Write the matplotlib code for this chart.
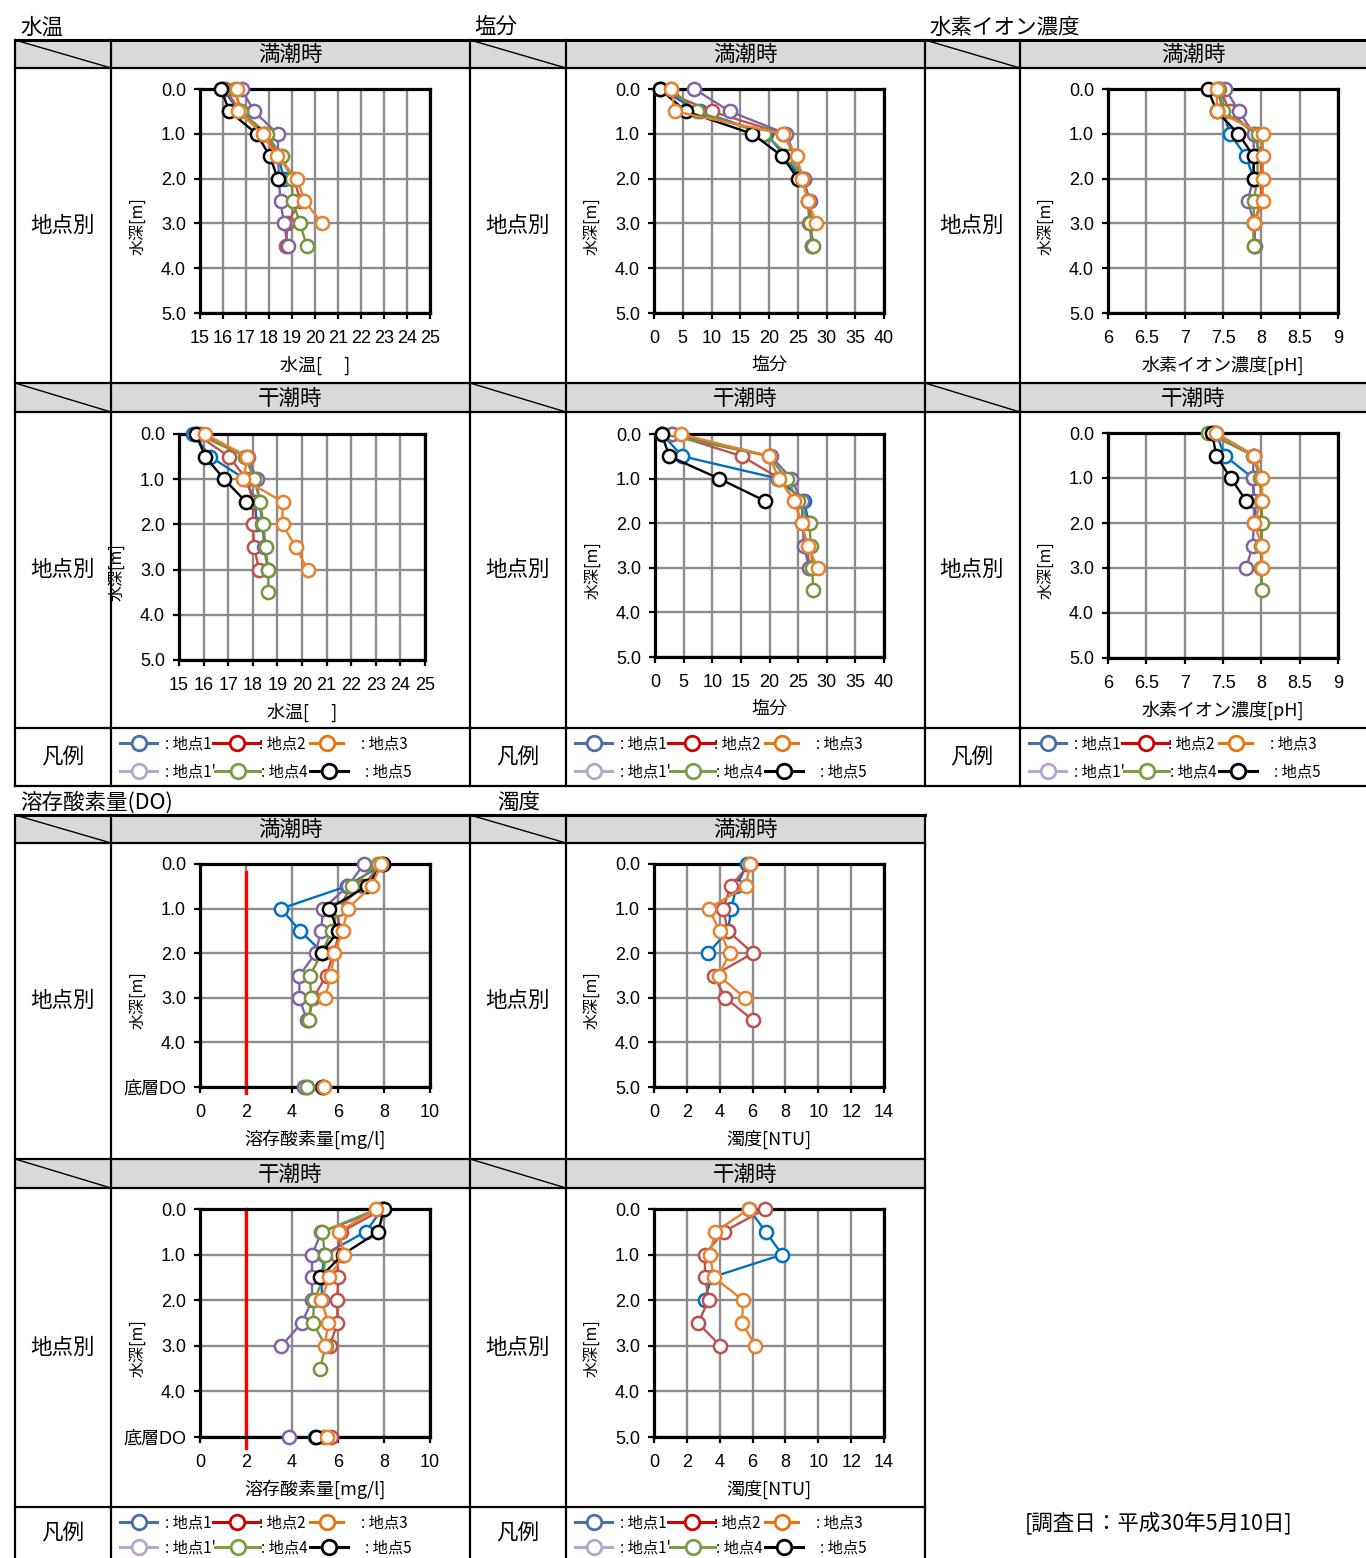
import matplotlib
matplotlib.use("Agg")
import matplotlib.pyplot as plt
from matplotlib.patches import Rectangle

plt.rcParams['font.family'] = ['Noto Sans CJK JP', 'DejaVu Sans']

W, H = 1366, 1558
fig = plt.figure(figsize=(W / 100, H / 100), dpi=100)

# ---------------------------------------------------------------- data
DEPTHS = [0.0, 0.5, 1.0, 1.5, 2.0, 2.5, 3.0, 3.5]
STATIONS = ["地点1", "地点2", "地点3", "地点1'", "地点4", "地点5"]
DRAW_ORDER = ["地点1", "地点2", "地点1'", "地点4", "地点5", "地点3"]

temp_high = {
    "地点1": [16.0, 16.7, 17.8, 18.4, 18.65],
    "地点2": [16.1, 16.75, 17.8, 18.4, 19.1, 19.35, 18.8, 18.75],
    "地点3": [16.6, 16.67, 17.72, 18.33, 19.23, 19.54, 20.32],
    "地点1'": [16.81, 17.35, 18.38, 18.4, 18.43, 18.5, 18.65, 18.81],
    "地点4": [16.5, 16.8, 17.9, 18.55, 18.99, 19.03, 19.35, 19.64],
    "地点5": [15.91, 16.28, 17.46, 18.04, 18.38],
}
temp_low = {
    "地点1": [15.58, 16.26, 17.7, 18.1, 18.15],
    "地点2": [15.7, 17.03, 17.75, 18.02, 18.0, 18.06, 18.25],
    "地点3": [16.06, 17.78, 17.62, 19.21, 19.21, 19.74, 20.23],
    "地点1'": [15.9, 17.79, 18.16, 18.27, 18.39, 18.46, 18.6],
    "地点4": [15.75, 17.7, 18.05, 18.3, 18.43, 18.52, 18.63, 18.63],
    "地点5": [15.69, 16.06, 16.84, 17.72],
}
salinity_high = {
    "地点1": [1.0, 8.0, 19.5, 22.8, 25.5],
    "地点2": [1.0, 10.0, 22.5, 24.5, 26.0, 26.8, 27.0, 27.5],
    "地点3": [3.0, 3.6, 22.4, 24.9, 25.7, 26.8, 28.2],
    "地点1'": [7.0, 13.2, 23.0, 24.5, 26.0, 27.1, 27.3, 27.5],
    "地点4": [3.0, 7.4, 19.2, 23.5, 25.8, 26.8, 27.2, 27.7],
    "地点5": [1.0, 5.6, 17.1, 22.3, 25.0],
}
salinity_low = {
    "地点1": [1.2, 4.8, 21.5, 26.0, 26.9],
    "地点2": [2.9, 15.2, 21.8, 24.4, 25.6, 26.5, 27.0],
    "地点3": [4.5, 19.9, 21.7, 24.3, 25.6, 26.7, 28.4],
    "地点1'": [2.9, 20.3, 23.8, 25.6, 25.8, 26.0, 26.9],
    "地点4": [1.3, 19.9, 23.0, 25.0, 27.0, 27.2, 27.5, 27.6],
    "地点5": [1.16, 2.5, 11.2, 19.2],
}
ph_high = {
    "地点1": [7.43, 7.5, 7.59, 7.8, 7.9],
    "地点2": [7.46, 7.59, 7.9, 8.0, 8.0, 8.0, 7.9, 7.9],
    "地点3": [7.42, 7.42, 8.02, 8.02, 8.02, 8.02, 7.91],
    "地点1'": [7.53, 7.71, 7.9, 7.9, 7.9, 7.82, 7.91, 7.92],
    "地点4": [7.45, 7.5, 7.95, 7.95, 7.95, 7.9, 7.9, 7.9],
    "地点5": [7.3, 7.42, 7.7, 7.9, 7.9],
}
ph_low = {
    "地点1": [7.41, 7.52, 7.89, 7.9, 7.95],
    "地点2": [7.4, 7.9, 8.0, 8.0, 8.0, 8.0, 8.0],
    "地点3": [7.41, 7.9, 8.01, 8.01, 7.9, 8.01, 8.01],
    "地点1'": [7.4, 7.9, 7.89, 7.91, 7.9, 7.89, 7.8],
    "地点4": [7.3, 7.89, 7.98, 8.0, 8.01, 8.0, 8.0, 8.01],
    "地点5": [7.36, 7.41, 7.6, 7.8],
}
do_high = {
    "地点1": [7.97, 6.38, 3.52, 4.35, 5.36],
    "地点2": [7.83, 7.1, 5.94, 6.09, 5.8, 5.5, 4.93, 4.71],
    "地点3": [7.87, 7.46, 6.42, 6.2, 5.83, 5.7, 5.43],
    "地点1'": [7.13, 6.42, 5.36, 5.26, 5.03, 4.32, 4.32, 4.64],
    "地点4": [7.75, 6.59, 6.01, 5.72, 5.29, 4.78, 4.83, 4.75],
    "地点5": [7.94, 7.25, 5.61, 6.01, 5.29],
}
do_high_bottom = {"地点1": 5.3, "地点2": 4.64, "地点3": 5.4,
                  "地点1'": 4.52, "地点4": 4.64, "地点5": 5.33}
do_low = {
    "地点1": [7.93, 7.2, 5.4, 5.3, 5.29],
    "地点2": [7.97, 6.15, 5.95, 6.01, 5.97, 5.97, 5.65],
    "地点3": [7.67, 6.04, 6.26, 5.61, 5.28, 5.57, 5.43],
    "地点1'": [7.93, 5.28, 4.88, 4.86, 4.88, 4.42, 3.54],
    "地点4": [7.7, 5.32, 5.43, 5.39, 4.96, 4.91, 5.46, 5.22],
    "地点5": [8.0, 7.75, 6.2, 5.22],
}
do_low_bottom = {"地点1": 5.0, "地点2": 5.68, "地点3": 5.51,
                 "地点1'": 3.87, "地点4": 5.39, "地点5": 5.03}
turbidity_high = {
    "地点1": [5.68, 5.01, 4.71, 4.5, 3.29],
    "地点2": [5.82, 4.67, 4.2, 4.5, 6.02, 3.63, 4.34, 6.02],
    "地点3": [5.86, 5.58, 3.33, 4.0, 4.6, 3.94, 5.52],
}
turbidity_low = {
    "地点1": [5.78, 6.8, 7.81, 3.5, 3.08],
    "地点2": [6.77, 4.24, 3.08, 3.12, 3.33, 2.68, 4.04],
    "地点3": [5.78, 3.73, 3.39, 3.65, 5.42, 5.36, 6.17],
}
DO_LIMIT = 2.0

temp_ticks = list(range(15, 26))
salinity_ticks = list(range(0, 41, 5))
ph_ticks = [6, 6.5, 7, 7.5, 8, 8.5, 9]
ph_ticklabels = ["6", "6.5", "7", "7.5", "8", "8.5", "9"]
do_ticks = list(range(0, 11, 2))
turbidity_ticks = list(range(0, 15, 2))
depth_ticklabels = ["0.0", "1.0", "2.0", "3.0", "4.0", "5.0"]
do_depth_ticklabels = ["0.0", "1.0", "2.0", "3.0", "4.0", "底層DO"]

# ---------------------------------------------------------------- styles
LINE_COLORS = {"地点1": "#0070C0", "地点2": "#C0504D", "地点3": "#E9812E",
               "地点1'": "#8064A2", "地点4": "#77933C", "地点5": "#000000"}
LEGEND_COLORS = {"地点1": "#4A6FA8", "地点2": "#D00000", "地点3": "#E8740C",
                 "地点1'": "#B4A5D2", "地点4": "#7BA044", "地点5": "#000000"}
TICK_FONT = ['Liberation Sans', 'Noto Sans CJK JP']
CJK = ['Noto Sans CJK JP', 'DejaVu Sans']

# ---------------------------------------------------------------- table frame
frame = fig.add_axes([0, 0, 1, 1])
frame.set_xlim(0, W)
frame.set_ylim(H, 0)
frame.axis("off")


def hline(y, x0, x1, lw=1.6):
    frame.plot([x0, x1], [y, y], color="black", lw=lw, solid_capstyle="projecting")


def vline(x, y0, y1, lw=1.6):
    frame.plot([x, x], [y0, y1], color="black", lw=lw, solid_capstyle="projecting")


def header_row(y0, y1, cols, right, label):
    frame.add_patch(Rectangle((cols[0], y0), right - cols[0], y1 - y0,
                              facecolor="#D9D9D9", edgecolor="none"))
    for i in range(0, len(cols), 2):
        a = cols[i]
        b = cols[i + 1]
        frame.plot([a, b], [y0, y1], color="black", lw=1.0)
        end = cols[i + 2] if i + 2 < len(cols) else right
        frame.text((b + end) / 2, (y0 + y1) / 2 + 1, label, ha="center", va="center",
                   fontsize=15.5, family=CJK)


# top section
cols_top = [15, 111, 470, 566, 925, 1020]
header_row(40, 68, cols_top, W, "満潮時")
header_row(383, 412, cols_top, W, "干潮時")
hline(40, 15, W, lw=2.2)
for y in (68, 383, 412, 728, 786):
    hline(y, 15, W)
for x in cols_top:
    vline(x, 40, 786)

# bottom section
cols_bot = [15, 111, 470, 566]
header_row(815, 843, cols_bot, 925, "満潮時")
header_row(1159, 1188, cols_bot, 925, "干潮時")
hline(815, 15, 925, lw=2.2)
for y in (843, 1159, 1188, 1507):
    hline(y, 15, 925)
for x in cols_bot + [925]:
    vline(x, 815, H)

# section titles
for txt, x, y in [("水温", 20, 27), ("塩分", 474, 27), ("水素イオン濃度", 929, 27),
                  ("溶存酸素量(DO)", 20, 802), ("濁度", 497, 802)]:
    frame.text(x, y + 1, txt, ha="left", va="center", fontsize=15.5, family=CJK)

# row labels
for cx in (63, 518, 972):
    for cy in (226, 570):
        frame.text(cx, cy, "地点別", ha="center", va="center", fontsize=15.5, family=CJK)
    frame.text(cx, 757, "凡例", ha="center", va="center", fontsize=15.5, family=CJK)
for cx in (63, 518):
    for cy in (1001, 1348):
        frame.text(cx, cy, "地点別", ha="center", va="center", fontsize=15.5, family=CJK)
    frame.text(cx, 1533, "凡例", ha="center", va="center", fontsize=15.5, family=CJK)

frame.text(1025, 1523, "[調査日：平成30年5月10日]", ha="left", va="center",
           fontsize=15.5, family=CJK)

# legend cells: (station, line start, line end, text start) relative to cell left
LEGEND_SLOTS = [
    [("地点1", 9, 46, 54), ("地点2", 102, 149, 148), ("地点3", 199, 232, 250)],
    [("地点1'", 9, 46, 54), ("地点4", 104, 149, 150), ("地点5", 199, 237, 254)],
]


def legend_cell(x0, rows_y):
    for slots, y in zip(LEGEND_SLOTS, rows_y):
        for st, a, b, t in slots:
            c = LEGEND_COLORS[st]
            frame.plot([x0 + a, x0 + b], [y, y], color=c, lw=2.2)
            frame.plot([(2 * x0 + a + b) / 2], [y], marker="o", ms=10.5, mfc="white",
                       mec=c, mew=2.0)
            frame.text(x0 + t, y + 1, ": " + st, ha="left", va="center",
                       fontsize=11, family=CJK)


for x0 in (111, 566, 1020):
    legend_cell(x0, (743, 771))
for x0 in (111, 566):
    legend_cell(x0, (1522, 1547))


# ---------------------------------------------------------------- charts
def panel(rect, data, xlim, xticks, xlabel, xticklabels=None, do_bottom=None,
          limit_span=None):
    l, t, r, b = rect
    w_px, h_px = r - l, b - t
    ax = fig.add_axes([l / W, 1 - b / H, w_px / W, h_px / H])
    ax.set_xlim(*xlim)
    ax.set_ylim(5, 0)
    ax.set_xticks(xticks)
    ax.set_xticklabels(xticklabels if xticklabels else [str(v) for v in xticks])
    ax.set_yticks([0, 1, 2, 3, 4, 5])
    ax.set_yticklabels(do_depth_ticklabels if do_bottom is not None else depth_ticklabels)
    ax.grid(True, color="#8C8C8C", lw=1.7)
    ax.set_axisbelow(True)
    for s in ax.spines.values():
        s.set_linewidth(2.3)
        s.set_color("black")
        s.set_zorder(2.5)
    ax.tick_params(direction="out", length=4, width=1.6, labelsize=13)
    ax.tick_params(axis="x", pad=8)
    ax.tick_params(axis="y", pad=6)
    for lab in ax.get_xticklabels() + ax.get_yticklabels():
        lab.set_family(TICK_FONT)

    if limit_span is not None:
        ax.plot([DO_LIMIT, DO_LIMIT], limit_span, color="#FF0000", lw=2.4,
                clip_on=False, zorder=2.2)

    for st in DRAW_ORDER:
        if st not in data:
            continue
        vals = data[st]
        ax.plot(vals, DEPTHS[:len(vals)], color=LINE_COLORS[st], lw=1.7,
                marker="o", ms=9.5, mfc="white", mec=LINE_COLORS[st], mew=1.8,
                clip_on=False, zorder=3)
    if do_bottom is not None:
        for st in DRAW_ORDER:
            ax.plot([do_bottom[st]], [5], linestyle="none", marker="o", ms=9.5,
                    mfc="white", mec=LINE_COLORS[st], mew=1.8, clip_on=False, zorder=3)

    ax.set_xlabel(xlabel, fontsize=13, family=CJK)
    ax.xaxis.set_label_coords(0.5, -52 / h_px)
    ax.xaxis.label.set_va("center")
    ax.set_ylabel("水深[m]", fontsize=11.5, family=CJK)
    ax.yaxis.set_label_coords(-62 / w_px, 0.39)
    ax.yaxis.label.set_va("center")
    return ax


temp_label = "水温[　 ]"
ph_label = "水素イオン濃度[pH]"
do_label = "溶存酸素量[mg/l]"
turb_label = "濁度[NTU]"

panel((200, 89, 430, 313), temp_high, (15, 25), temp_ticks, temp_label)
panel((654, 89, 884, 313), salinity_high, (0, 40), salinity_ticks, "塩分")
panel((1108, 89, 1338, 313), ph_high, (6, 9), ph_ticks, ph_label, ph_ticklabels)
panel((179, 434, 425, 660), temp_low, (15, 25), temp_ticks, temp_label)
panel((655, 434, 884, 657), salinity_low, (0, 40), salinity_ticks, "塩分")
panel((1108, 433, 1338, 658), ph_low, (6, 9), ph_ticks, ph_label, ph_ticklabels)
panel((200, 864, 430, 1087), do_high, (0, 10), do_ticks, do_label,
      do_bottom=do_high_bottom, limit_span=(0.18, 5.13))
panel((654, 864, 884, 1087), turbidity_high, (0, 14), turbidity_ticks, turb_label)
panel((200, 1209, 430, 1437), do_low, (0, 10), do_ticks, do_label,
      do_bottom=do_low_bottom, limit_span=(0.0, 5.24))
panel((654, 1209, 884, 1437), turbidity_low, (0, 14), turbidity_ticks, turb_label)

fig.savefig("out.png", dpi=100)
